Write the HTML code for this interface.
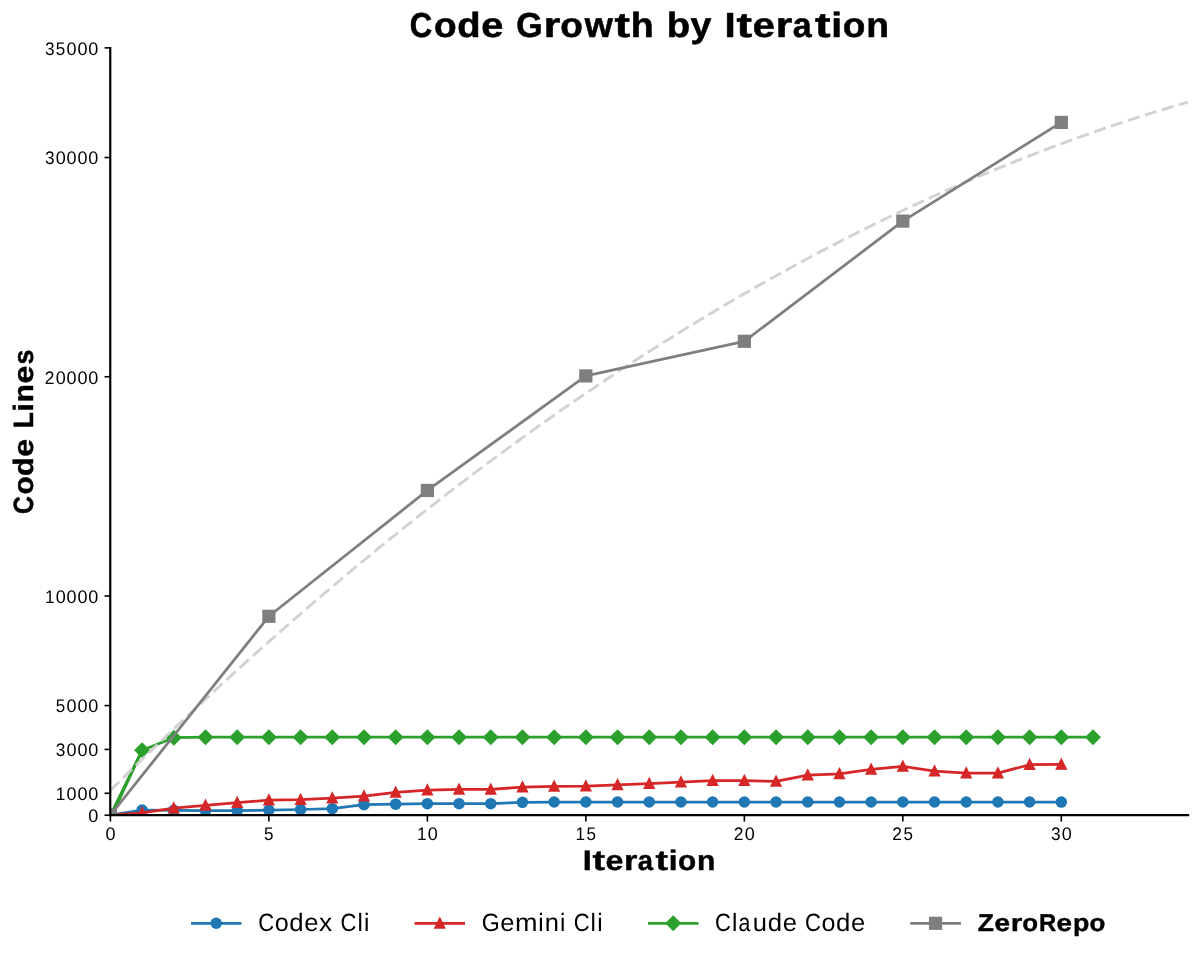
<!DOCTYPE html>
<html lang="en">
<head>
<meta charset="utf-8">
<title>Code Growth by Iteration</title>
<style>
html,body{margin:0;padding:0;background:#fff;}
body{width:1200px;height:958px;overflow:hidden;}
svg{display:block;will-change:transform;}
svg text{font-family:"Liberation Sans",sans-serif;fill:#000;text-rendering:geometricPrecision;}
</style>
</head>
<body>
<svg width="1200" height="958" viewBox="0 0 1200 958">
<rect x="0" y="0" width="1200" height="958" fill="#ffffff"/>
<defs><clipPath id="ax"><rect x="110.40" y="47.89" width="1077.70" height="767.31"/></clipPath></defs>

<g clip-path="url(#ax)" fill="none" stroke-linejoin="round" stroke-linecap="butt">
<polyline points="110.40,815.20 142.10,810.00 173.79,810.33 205.49,810.55 237.19,810.55 268.88,810.11 300.58,809.50 332.28,808.67 363.98,804.68 395.67,804.17 427.37,803.67 459.07,803.67 490.76,803.67 522.46,802.33 554.16,802.05 585.86,802.05 617.55,802.05 649.25,802.05 680.95,802.05 712.64,802.05 744.34,802.05 776.04,802.05 807.73,802.05 839.43,802.05 871.13,802.05 902.82,802.05 934.52,802.05 966.22,802.05 997.92,802.05 1029.61,802.05 1061.31,802.09" stroke="#1f77b4" stroke-width="2.75"/>
<circle cx="110.40" cy="815.20" r="5.75" fill="#1f77b4"/>
<circle cx="142.10" cy="810.00" r="5.75" fill="#1f77b4"/>
<circle cx="173.79" cy="810.33" r="5.75" fill="#1f77b4"/>
<circle cx="205.49" cy="810.55" r="5.75" fill="#1f77b4"/>
<circle cx="237.19" cy="810.55" r="5.75" fill="#1f77b4"/>
<circle cx="268.88" cy="810.11" r="5.75" fill="#1f77b4"/>
<circle cx="300.58" cy="809.50" r="5.75" fill="#1f77b4"/>
<circle cx="332.28" cy="808.67" r="5.75" fill="#1f77b4"/>
<circle cx="363.98" cy="804.68" r="5.75" fill="#1f77b4"/>
<circle cx="395.67" cy="804.17" r="5.75" fill="#1f77b4"/>
<circle cx="427.37" cy="803.67" r="5.75" fill="#1f77b4"/>
<circle cx="459.07" cy="803.67" r="5.75" fill="#1f77b4"/>
<circle cx="490.76" cy="803.67" r="5.75" fill="#1f77b4"/>
<circle cx="522.46" cy="802.33" r="5.75" fill="#1f77b4"/>
<circle cx="554.16" cy="802.05" r="5.75" fill="#1f77b4"/>
<circle cx="585.86" cy="802.05" r="5.75" fill="#1f77b4"/>
<circle cx="617.55" cy="802.05" r="5.75" fill="#1f77b4"/>
<circle cx="649.25" cy="802.05" r="5.75" fill="#1f77b4"/>
<circle cx="680.95" cy="802.05" r="5.75" fill="#1f77b4"/>
<circle cx="712.64" cy="802.05" r="5.75" fill="#1f77b4"/>
<circle cx="744.34" cy="802.05" r="5.75" fill="#1f77b4"/>
<circle cx="776.04" cy="802.05" r="5.75" fill="#1f77b4"/>
<circle cx="807.73" cy="802.05" r="5.75" fill="#1f77b4"/>
<circle cx="839.43" cy="802.05" r="5.75" fill="#1f77b4"/>
<circle cx="871.13" cy="802.05" r="5.75" fill="#1f77b4"/>
<circle cx="902.82" cy="802.05" r="5.75" fill="#1f77b4"/>
<circle cx="934.52" cy="802.05" r="5.75" fill="#1f77b4"/>
<circle cx="966.22" cy="802.05" r="5.75" fill="#1f77b4"/>
<circle cx="997.92" cy="802.05" r="5.75" fill="#1f77b4"/>
<circle cx="1029.61" cy="802.05" r="5.75" fill="#1f77b4"/>
<circle cx="1061.31" cy="802.09" r="5.75" fill="#1f77b4"/>
<polyline points="110.40,815.20 142.10,812.90 173.79,808.10 205.49,805.40 237.19,802.70 268.88,800.20 300.58,799.70 332.28,798.10 363.98,796.11 395.67,792.40 427.37,790.10 459.07,789.40 490.76,789.40 522.46,787.09 554.16,786.39 585.86,786.11 617.55,784.90 649.25,783.61 680.95,782.21 712.64,780.61 744.34,780.61 776.04,781.39 807.73,775.10 839.43,773.90 871.13,769.40 902.82,766.40 934.52,771.11 966.22,773.11 997.92,773.11 1029.61,764.71 1061.31,764.45" stroke="#d62728" stroke-width="2.75"/>
<path d="M110.40 809.90L115.40 819.90L105.40 819.90Z" fill="#d62728" stroke="#d62728" stroke-width="1.4" stroke-linejoin="miter"/>
<path d="M142.10 807.60L147.10 817.60L137.10 817.60Z" fill="#d62728" stroke="#d62728" stroke-width="1.4" stroke-linejoin="miter"/>
<path d="M173.79 802.80L178.79 812.80L168.79 812.80Z" fill="#d62728" stroke="#d62728" stroke-width="1.4" stroke-linejoin="miter"/>
<path d="M205.49 800.10L210.49 810.10L200.49 810.10Z" fill="#d62728" stroke="#d62728" stroke-width="1.4" stroke-linejoin="miter"/>
<path d="M237.19 797.40L242.19 807.40L232.19 807.40Z" fill="#d62728" stroke="#d62728" stroke-width="1.4" stroke-linejoin="miter"/>
<path d="M268.88 794.90L273.88 804.90L263.88 804.90Z" fill="#d62728" stroke="#d62728" stroke-width="1.4" stroke-linejoin="miter"/>
<path d="M300.58 794.40L305.58 804.40L295.58 804.40Z" fill="#d62728" stroke="#d62728" stroke-width="1.4" stroke-linejoin="miter"/>
<path d="M332.28 792.80L337.28 802.80L327.28 802.80Z" fill="#d62728" stroke="#d62728" stroke-width="1.4" stroke-linejoin="miter"/>
<path d="M363.98 790.81L368.98 800.81L358.98 800.81Z" fill="#d62728" stroke="#d62728" stroke-width="1.4" stroke-linejoin="miter"/>
<path d="M395.67 787.10L400.67 797.10L390.67 797.10Z" fill="#d62728" stroke="#d62728" stroke-width="1.4" stroke-linejoin="miter"/>
<path d="M427.37 784.80L432.37 794.80L422.37 794.80Z" fill="#d62728" stroke="#d62728" stroke-width="1.4" stroke-linejoin="miter"/>
<path d="M459.07 784.10L464.07 794.10L454.07 794.10Z" fill="#d62728" stroke="#d62728" stroke-width="1.4" stroke-linejoin="miter"/>
<path d="M490.76 784.10L495.76 794.10L485.76 794.10Z" fill="#d62728" stroke="#d62728" stroke-width="1.4" stroke-linejoin="miter"/>
<path d="M522.46 781.79L527.46 791.79L517.46 791.79Z" fill="#d62728" stroke="#d62728" stroke-width="1.4" stroke-linejoin="miter"/>
<path d="M554.16 781.09L559.16 791.09L549.16 791.09Z" fill="#d62728" stroke="#d62728" stroke-width="1.4" stroke-linejoin="miter"/>
<path d="M585.86 780.81L590.86 790.81L580.86 790.81Z" fill="#d62728" stroke="#d62728" stroke-width="1.4" stroke-linejoin="miter"/>
<path d="M617.55 779.60L622.55 789.60L612.55 789.60Z" fill="#d62728" stroke="#d62728" stroke-width="1.4" stroke-linejoin="miter"/>
<path d="M649.25 778.31L654.25 788.31L644.25 788.31Z" fill="#d62728" stroke="#d62728" stroke-width="1.4" stroke-linejoin="miter"/>
<path d="M680.95 776.91L685.95 786.91L675.95 786.91Z" fill="#d62728" stroke="#d62728" stroke-width="1.4" stroke-linejoin="miter"/>
<path d="M712.64 775.31L717.64 785.31L707.64 785.31Z" fill="#d62728" stroke="#d62728" stroke-width="1.4" stroke-linejoin="miter"/>
<path d="M744.34 775.31L749.34 785.31L739.34 785.31Z" fill="#d62728" stroke="#d62728" stroke-width="1.4" stroke-linejoin="miter"/>
<path d="M776.04 776.09L781.04 786.09L771.04 786.09Z" fill="#d62728" stroke="#d62728" stroke-width="1.4" stroke-linejoin="miter"/>
<path d="M807.73 769.80L812.73 779.80L802.73 779.80Z" fill="#d62728" stroke="#d62728" stroke-width="1.4" stroke-linejoin="miter"/>
<path d="M839.43 768.60L844.43 778.60L834.43 778.60Z" fill="#d62728" stroke="#d62728" stroke-width="1.4" stroke-linejoin="miter"/>
<path d="M871.13 764.10L876.13 774.10L866.13 774.10Z" fill="#d62728" stroke="#d62728" stroke-width="1.4" stroke-linejoin="miter"/>
<path d="M902.82 761.10L907.82 771.10L897.82 771.10Z" fill="#d62728" stroke="#d62728" stroke-width="1.4" stroke-linejoin="miter"/>
<path d="M934.52 765.81L939.52 775.81L929.52 775.81Z" fill="#d62728" stroke="#d62728" stroke-width="1.4" stroke-linejoin="miter"/>
<path d="M966.22 767.81L971.22 777.81L961.22 777.81Z" fill="#d62728" stroke="#d62728" stroke-width="1.4" stroke-linejoin="miter"/>
<path d="M997.92 767.81L1002.92 777.81L992.92 777.81Z" fill="#d62728" stroke="#d62728" stroke-width="1.4" stroke-linejoin="miter"/>
<path d="M1029.61 759.41L1034.61 769.41L1024.61 769.41Z" fill="#d62728" stroke="#d62728" stroke-width="1.4" stroke-linejoin="miter"/>
<path d="M1061.31 759.15L1066.31 769.15L1056.31 769.15Z" fill="#d62728" stroke="#d62728" stroke-width="1.4" stroke-linejoin="miter"/>
<polyline points="110.40,815.20 142.10,750.31 173.79,737.70 205.49,737.15 237.19,737.15 268.88,737.15 300.58,737.15 332.28,737.15 363.98,737.15 395.67,737.15 427.37,737.15 459.07,737.15 490.76,737.15 522.46,737.15 554.16,737.15 585.86,737.15 617.55,737.15 649.25,737.15 680.95,737.15 712.64,737.15 744.34,737.15 776.04,737.15 807.73,737.15 839.43,737.15 871.13,737.15 902.82,737.15 934.52,737.15 966.22,737.15 997.92,737.15 1029.61,737.15 1061.31,737.15 1093.01,737.15" stroke="#2ca02c" stroke-width="2.75"/>
<path d="M112.10 815.20L142.10 750.31" stroke="#2ca02c" stroke-width="2.75"/>
<path d="M110.40 807.20L118.40 815.20L110.40 823.20L102.40 815.20Z" fill="#2ca02c"/>
<path d="M142.10 742.31L150.10 750.31L142.10 758.31L134.10 750.31Z" fill="#2ca02c"/>
<path d="M173.79 729.70L181.79 737.70L173.79 745.70L165.79 737.70Z" fill="#2ca02c"/>
<path d="M205.49 729.15L213.49 737.15L205.49 745.15L197.49 737.15Z" fill="#2ca02c"/>
<path d="M237.19 729.15L245.19 737.15L237.19 745.15L229.19 737.15Z" fill="#2ca02c"/>
<path d="M268.88 729.15L276.88 737.15L268.88 745.15L260.88 737.15Z" fill="#2ca02c"/>
<path d="M300.58 729.15L308.58 737.15L300.58 745.15L292.58 737.15Z" fill="#2ca02c"/>
<path d="M332.28 729.15L340.28 737.15L332.28 745.15L324.28 737.15Z" fill="#2ca02c"/>
<path d="M363.98 729.15L371.98 737.15L363.98 745.15L355.98 737.15Z" fill="#2ca02c"/>
<path d="M395.67 729.15L403.67 737.15L395.67 745.15L387.67 737.15Z" fill="#2ca02c"/>
<path d="M427.37 729.15L435.37 737.15L427.37 745.15L419.37 737.15Z" fill="#2ca02c"/>
<path d="M459.07 729.15L467.07 737.15L459.07 745.15L451.07 737.15Z" fill="#2ca02c"/>
<path d="M490.76 729.15L498.76 737.15L490.76 745.15L482.76 737.15Z" fill="#2ca02c"/>
<path d="M522.46 729.15L530.46 737.15L522.46 745.15L514.46 737.15Z" fill="#2ca02c"/>
<path d="M554.16 729.15L562.16 737.15L554.16 745.15L546.16 737.15Z" fill="#2ca02c"/>
<path d="M585.86 729.15L593.86 737.15L585.86 745.15L577.86 737.15Z" fill="#2ca02c"/>
<path d="M617.55 729.15L625.55 737.15L617.55 745.15L609.55 737.15Z" fill="#2ca02c"/>
<path d="M649.25 729.15L657.25 737.15L649.25 745.15L641.25 737.15Z" fill="#2ca02c"/>
<path d="M680.95 729.15L688.95 737.15L680.95 745.15L672.95 737.15Z" fill="#2ca02c"/>
<path d="M712.64 729.15L720.64 737.15L712.64 745.15L704.64 737.15Z" fill="#2ca02c"/>
<path d="M744.34 729.15L752.34 737.15L744.34 745.15L736.34 737.15Z" fill="#2ca02c"/>
<path d="M776.04 729.15L784.04 737.15L776.04 745.15L768.04 737.15Z" fill="#2ca02c"/>
<path d="M807.73 729.15L815.73 737.15L807.73 745.15L799.73 737.15Z" fill="#2ca02c"/>
<path d="M839.43 729.15L847.43 737.15L839.43 745.15L831.43 737.15Z" fill="#2ca02c"/>
<path d="M871.13 729.15L879.13 737.15L871.13 745.15L863.13 737.15Z" fill="#2ca02c"/>
<path d="M902.82 729.15L910.82 737.15L902.82 745.15L894.82 737.15Z" fill="#2ca02c"/>
<path d="M934.52 729.15L942.52 737.15L934.52 745.15L926.52 737.15Z" fill="#2ca02c"/>
<path d="M966.22 729.15L974.22 737.15L966.22 745.15L958.22 737.15Z" fill="#2ca02c"/>
<path d="M997.92 729.15L1005.92 737.15L997.92 745.15L989.92 737.15Z" fill="#2ca02c"/>
<path d="M1029.61 729.15L1037.61 737.15L1029.61 745.15L1021.61 737.15Z" fill="#2ca02c"/>
<path d="M1061.31 729.15L1069.31 737.15L1061.31 745.15L1053.31 737.15Z" fill="#2ca02c"/>
<path d="M1093.01 729.15L1101.01 737.15L1093.01 745.15L1085.01 737.15Z" fill="#2ca02c"/>
<polyline points="110.40,790.46 113.10,787.79 115.80,785.12 118.50,782.45 121.20,779.80 123.90,777.14 126.61,774.49 129.31,771.85 132.01,769.21 134.71,766.57 137.41,763.94 140.11,761.32 142.81,758.70 145.51,756.08 148.21,753.47 150.91,750.86 153.62,748.26 156.32,745.66 159.02,743.07 161.72,740.48 164.42,737.90 167.12,735.32 169.82,732.75 172.52,730.18 175.22,727.62 177.92,725.06 180.63,722.50 183.33,719.95 186.03,717.41 188.73,714.87 191.43,712.33 194.13,709.80 196.83,707.28 199.53,704.76 202.23,702.24 204.93,699.73 207.64,697.22 210.34,694.72 213.04,692.22 215.74,689.73 218.44,687.24 221.14,684.76 223.84,682.28 226.54,679.81 229.24,677.34 231.94,674.88 234.65,672.42 237.35,669.97 240.05,667.52 242.75,665.07 245.45,662.63 248.15,660.20 250.85,657.77 253.55,655.34 256.25,652.92 258.95,650.50 261.66,648.09 264.36,645.69 267.06,643.28 269.76,640.89 272.46,638.50 275.16,636.11 277.86,633.72 280.56,631.35 283.26,628.97 285.96,626.61 288.67,624.24 291.37,621.88 294.07,619.53 296.77,617.18 299.47,614.84 302.17,612.50 304.87,610.16 307.57,607.83 310.27,605.50 312.97,603.18 315.68,600.87 318.38,598.56 321.08,596.25 323.78,593.95 326.48,591.65 329.18,589.36 331.88,587.07 334.58,584.79 337.28,582.51 339.98,580.24 342.69,577.97 345.39,575.71 348.09,573.45 350.79,571.19 353.49,568.95 356.19,566.70 358.89,564.46 361.59,562.23 364.29,560.00 366.99,557.77 369.70,555.55 372.40,553.33 375.10,551.12 377.80,548.92 380.50,546.71 383.20,544.52 385.90,542.33 388.60,540.14 391.30,537.96 394.00,535.78 396.71,533.61 399.41,531.44 402.11,529.27 404.81,527.11 407.51,524.96 410.21,522.81 412.91,520.67 415.61,518.53 418.31,516.39 421.01,514.26 423.72,512.14 426.42,510.02 429.12,507.90 431.82,505.79 434.52,503.68 437.22,501.58 439.92,499.49 442.62,497.39 445.32,495.31 448.02,493.22 450.73,491.15 453.43,489.07 456.13,487.00 458.83,484.94 461.53,482.88 464.23,480.83 466.93,478.78 469.63,476.74 472.33,474.70 475.03,472.66 477.74,470.63 480.44,468.61 483.14,466.58 485.84,464.57 488.54,462.56 491.24,460.55 493.94,458.55 496.64,456.55 499.34,454.56 502.04,452.57 504.75,450.59 507.45,448.61 510.15,446.64 512.85,444.67 515.55,442.71 518.25,440.75 520.95,438.80 523.65,436.85 526.35,434.90 529.05,432.96 531.76,431.03 534.46,429.10 537.16,427.17 539.86,425.25 542.56,423.34 545.26,421.43 547.96,419.52 550.66,417.62 553.36,415.72 556.06,413.83 558.77,411.94 561.47,410.06 564.17,408.18 566.87,406.31 569.57,404.44 572.27,402.58 574.97,400.72 577.67,398.87 580.37,397.02 583.07,395.17 585.78,393.34 588.48,391.50 591.18,389.67 593.88,387.85 596.58,386.03 599.28,384.21 601.98,382.40 604.68,380.59 607.38,378.79 610.08,376.99 612.79,375.20 615.49,373.42 618.19,371.63 620.89,369.86 623.59,368.08 626.29,366.32 628.99,364.55 631.69,362.79 634.39,361.04 637.09,359.29 639.80,357.55 642.50,355.81 645.20,354.07 647.90,352.34 650.60,350.62 653.30,348.90 656.00,347.18 658.70,345.47 661.40,343.77 664.10,342.06 666.81,340.37 669.51,338.68 672.21,336.99 674.91,335.31 677.61,333.63 680.31,331.96 683.01,330.29 685.71,328.63 688.41,326.97 691.11,325.31 693.82,323.66 696.52,322.02 699.22,320.38 701.92,318.75 704.62,317.12 707.32,315.49 710.02,313.87 712.72,312.26 715.42,310.64 718.12,309.04 720.83,307.44 723.53,305.84 726.23,304.25 728.93,302.66 731.63,301.08 734.33,299.50 737.03,297.93 739.73,296.36 742.43,294.80 745.13,293.24 747.84,291.69 750.54,290.14 753.24,288.59 755.94,287.06 758.64,285.52 761.34,283.99 764.04,282.47 766.74,280.95 769.44,279.43 772.14,277.92 774.85,276.41 777.55,274.91 780.25,273.42 782.95,271.92 785.65,270.44 788.35,268.96 791.05,267.48 793.75,266.01 796.45,264.54 799.15,263.07 801.86,261.62 804.56,260.16 807.26,258.71 809.96,257.27 812.66,255.83 815.36,254.40 818.06,252.97 820.76,251.54 823.46,250.12 826.16,248.71 828.87,247.30 831.57,245.89 834.27,244.49 836.97,243.09 839.67,241.70 842.37,240.31 845.07,238.93 847.77,237.56 850.47,236.18 853.17,234.81 855.88,233.45 858.58,232.09 861.28,230.74 863.98,229.39 866.68,228.05 869.38,226.71 872.08,225.37 874.78,224.04 877.48,222.72 880.18,221.40 882.89,220.08 885.59,218.77 888.29,217.47 890.99,216.17 893.69,214.87 896.39,213.58 899.09,212.29 901.79,211.01 904.49,209.73 907.19,208.46 909.90,207.19 912.60,205.93 915.30,204.67 918.00,203.42 920.70,202.17 923.40,200.93 926.10,199.69 928.80,198.45 931.50,197.22 934.20,196.00 936.91,194.78 939.61,193.56 942.31,192.35 945.01,191.15 947.71,189.95 950.41,188.75 953.11,187.56 955.81,186.37 958.51,185.19 961.21,184.01 963.92,182.84 966.62,181.67 969.32,180.51 972.02,179.35 974.72,178.20 977.42,177.05 980.12,175.91 982.82,174.77 985.52,173.63 988.22,172.50 990.93,171.38 993.63,170.26 996.33,169.14 999.03,168.03 1001.73,166.93 1004.43,165.83 1007.13,164.73 1009.83,163.64 1012.53,162.55 1015.23,161.47 1017.94,160.39 1020.64,159.32 1023.34,158.25 1026.04,157.19 1028.74,156.13 1031.44,155.08 1034.14,154.03 1036.84,152.99 1039.54,151.95 1042.24,150.91 1044.95,149.88 1047.65,148.86 1050.35,147.84 1053.05,146.82 1055.75,145.81 1058.45,144.81 1061.15,143.81 1063.85,142.81 1066.55,141.82 1069.25,140.83 1071.96,139.85 1074.66,138.88 1077.36,137.90 1080.06,136.94 1082.76,135.97 1085.46,135.01 1088.16,134.06 1090.86,133.11 1093.56,132.17 1096.26,131.23 1098.97,130.30 1101.67,129.37 1104.37,128.44 1107.07,127.52 1109.77,126.61 1112.47,125.70 1115.17,124.79 1117.87,123.89 1120.57,122.99 1123.27,122.10 1125.98,121.22 1128.68,120.34 1131.38,119.46 1134.08,118.59 1136.78,117.72 1139.48,116.86 1142.18,116.00 1144.88,115.15 1147.58,114.30 1150.28,113.45 1152.99,112.61 1155.69,111.78 1158.39,110.95 1161.09,110.13 1163.79,109.31 1166.49,108.49 1169.19,107.68 1171.89,106.88 1174.59,106.08 1177.29,105.28 1180.00,104.49 1182.70,103.70 1185.40,102.92 1188.10,102.14" stroke="#cecece" stroke-opacity="0.92" stroke-width="2.9" stroke-dasharray="12.4435 5.3688"/>
<polyline points="110.40,815.20 268.88,616.29 427.37,490.45 585.86,375.91 744.34,341.31 902.82,221.09 1061.31,122.39" stroke="#7f7f7f" stroke-width="2.75"/>
<rect x="103.80" y="808.60" width="13.20" height="13.20" fill="#7f7f7f"/>
<rect x="262.28" y="609.69" width="13.20" height="13.20" fill="#7f7f7f"/>
<rect x="420.77" y="483.85" width="13.20" height="13.20" fill="#7f7f7f"/>
<rect x="579.25" y="369.31" width="13.20" height="13.20" fill="#7f7f7f"/>
<rect x="737.74" y="334.71" width="13.20" height="13.20" fill="#7f7f7f"/>
<rect x="896.22" y="214.49" width="13.20" height="13.20" fill="#7f7f7f"/>
<rect x="1054.71" y="115.79" width="13.20" height="13.20" fill="#7f7f7f"/>
</g>
<g stroke="#000" fill="none">
<path d="M110.25 47.09V816.30" stroke-width="2.2"/>
<path d="M109.30 815.20H1189.20" stroke-width="2.2"/>
<path d="M110.40 815.20v6.4" stroke-width="1.6"/>
<path d="M268.88 815.20v6.4" stroke-width="1.6"/>
<path d="M427.37 815.20v6.4" stroke-width="1.6"/>
<path d="M585.86 815.20v6.4" stroke-width="1.6"/>
<path d="M744.34 815.20v6.4" stroke-width="1.6"/>
<path d="M902.82 815.20v6.4" stroke-width="1.6"/>
<path d="M1061.31 815.20v6.4" stroke-width="1.6"/>
<path d="M110.40 815.20h-5.9" stroke-width="1.6"/>
<path d="M110.40 793.28h-5.9" stroke-width="1.6"/>
<path d="M110.40 749.43h-5.9" stroke-width="1.6"/>
<path d="M110.40 705.59h-5.9" stroke-width="1.6"/>
<path d="M110.40 595.97h-5.9" stroke-width="1.6"/>
<path d="M110.40 376.74h-5.9" stroke-width="1.6"/>
<path d="M110.40 157.51h-5.9" stroke-width="1.6"/>
<path d="M110.40 47.89h-5.9" stroke-width="1.6"/>
</g>
<g>
<text y="839.60" font-size="18.18"><tspan x="105.38" textLength="10.03" lengthAdjust="spacingAndGlyphs">0</tspan></text>
<text y="839.60" font-size="18.18"><tspan x="264.08" textLength="9.46" lengthAdjust="spacingAndGlyphs">5</tspan></text>
<text y="839.60" font-size="18.18"><tspan x="417.06" textLength="9.57" lengthAdjust="spacingAndGlyphs">1</tspan><tspan x="427.79" textLength="10.03" lengthAdjust="spacingAndGlyphs">0</tspan></text>
<text y="839.60" font-size="18.18"><tspan x="575.54" textLength="9.57" lengthAdjust="spacingAndGlyphs">1</tspan><tspan x="586.49" textLength="9.46" lengthAdjust="spacingAndGlyphs">5</tspan></text>
<text y="839.60" font-size="18.18"><tspan x="733.84" textLength="9.66" lengthAdjust="spacingAndGlyphs">2</tspan><tspan x="744.76" textLength="10.03" lengthAdjust="spacingAndGlyphs">0</tspan></text>
<text y="839.60" font-size="18.18"><tspan x="892.32" textLength="9.66" lengthAdjust="spacingAndGlyphs">2</tspan><tspan x="903.46" textLength="9.46" lengthAdjust="spacingAndGlyphs">5</tspan></text>
<text y="839.60" font-size="18.18"><tspan x="1051.07" textLength="9.63" lengthAdjust="spacingAndGlyphs">3</tspan><tspan x="1061.73" textLength="10.03" lengthAdjust="spacingAndGlyphs">0</tspan></text>
<text y="822.10" font-size="18.18"><tspan x="88.28" textLength="10.03" lengthAdjust="spacingAndGlyphs">0</tspan></text>
<text y="800.18" font-size="18.18"><tspan x="55.78" textLength="9.57" lengthAdjust="spacingAndGlyphs">1</tspan><tspan x="66.52" textLength="10.03" lengthAdjust="spacingAndGlyphs">0</tspan><tspan x="77.40" textLength="10.03" lengthAdjust="spacingAndGlyphs">0</tspan><tspan x="88.28" textLength="10.03" lengthAdjust="spacingAndGlyphs">0</tspan></text>
<text y="756.33" font-size="18.18"><tspan x="55.86" textLength="9.63" lengthAdjust="spacingAndGlyphs">3</tspan><tspan x="66.52" textLength="10.03" lengthAdjust="spacingAndGlyphs">0</tspan><tspan x="77.40" textLength="10.03" lengthAdjust="spacingAndGlyphs">0</tspan><tspan x="88.28" textLength="10.03" lengthAdjust="spacingAndGlyphs">0</tspan></text>
<text y="712.49" font-size="18.18"><tspan x="55.86" textLength="9.46" lengthAdjust="spacingAndGlyphs">5</tspan><tspan x="66.52" textLength="10.03" lengthAdjust="spacingAndGlyphs">0</tspan><tspan x="77.40" textLength="10.03" lengthAdjust="spacingAndGlyphs">0</tspan><tspan x="88.28" textLength="10.03" lengthAdjust="spacingAndGlyphs">0</tspan></text>
<text y="602.87" font-size="18.18"><tspan x="44.91" textLength="9.57" lengthAdjust="spacingAndGlyphs">1</tspan><tspan x="55.64" textLength="10.03" lengthAdjust="spacingAndGlyphs">0</tspan><tspan x="66.52" textLength="10.03" lengthAdjust="spacingAndGlyphs">0</tspan><tspan x="77.40" textLength="10.03" lengthAdjust="spacingAndGlyphs">0</tspan><tspan x="88.28" textLength="10.03" lengthAdjust="spacingAndGlyphs">0</tspan></text>
<text y="383.64" font-size="18.18"><tspan x="44.72" textLength="9.66" lengthAdjust="spacingAndGlyphs">2</tspan><tspan x="55.64" textLength="10.03" lengthAdjust="spacingAndGlyphs">0</tspan><tspan x="66.52" textLength="10.03" lengthAdjust="spacingAndGlyphs">0</tspan><tspan x="77.40" textLength="10.03" lengthAdjust="spacingAndGlyphs">0</tspan><tspan x="88.28" textLength="10.03" lengthAdjust="spacingAndGlyphs">0</tspan></text>
<text y="164.41" font-size="18.18"><tspan x="44.98" textLength="9.63" lengthAdjust="spacingAndGlyphs">3</tspan><tspan x="55.64" textLength="10.03" lengthAdjust="spacingAndGlyphs">0</tspan><tspan x="66.52" textLength="10.03" lengthAdjust="spacingAndGlyphs">0</tspan><tspan x="77.40" textLength="10.03" lengthAdjust="spacingAndGlyphs">0</tspan><tspan x="88.28" textLength="10.03" lengthAdjust="spacingAndGlyphs">0</tspan></text>
<text y="54.79" font-size="18.18"><tspan x="44.98" textLength="9.63" lengthAdjust="spacingAndGlyphs">3</tspan><tspan x="55.86" textLength="9.46" lengthAdjust="spacingAndGlyphs">5</tspan><tspan x="66.52" textLength="10.03" lengthAdjust="spacingAndGlyphs">0</tspan><tspan x="77.40" textLength="10.03" lengthAdjust="spacingAndGlyphs">0</tspan><tspan x="88.28" textLength="10.03" lengthAdjust="spacingAndGlyphs">0</tspan></text>
</g>
<text y="37.30" font-size="34.82" font-weight="bold" stroke="#000" stroke-width="0.54"><tspan x="409.79" textLength="22.49" lengthAdjust="spacingAndGlyphs">C</tspan><tspan x="434.13" textLength="22.61" lengthAdjust="spacingAndGlyphs">o</tspan><tspan x="457.22" textLength="23.32" lengthAdjust="spacingAndGlyphs">d</tspan><tspan x="481.29" textLength="22.16" lengthAdjust="spacingAndGlyphs">e</tspan><tspan x="503.99"> </tspan><tspan x="516.27" textLength="26.46" lengthAdjust="spacingAndGlyphs">G</tspan><tspan x="543.66" textLength="16.61" lengthAdjust="spacingAndGlyphs">r</tspan><tspan x="560.27" textLength="22.61" lengthAdjust="spacingAndGlyphs">o</tspan><tspan x="584.71" textLength="28.06" lengthAdjust="spacingAndGlyphs">w</tspan><tspan x="614.43" textLength="15.49" lengthAdjust="spacingAndGlyphs">t</tspan><tspan x="630.87" textLength="22.94" lengthAdjust="spacingAndGlyphs">h</tspan><tspan x="654.38"> </tspan><tspan x="666.70" textLength="23.32" lengthAdjust="spacingAndGlyphs">b</tspan><tspan x="690.63" textLength="20.90" lengthAdjust="spacingAndGlyphs">y</tspan><tspan x="712.21"> </tspan><tspan x="724.61" textLength="11.18" lengthAdjust="spacingAndGlyphs">I</tspan><tspan x="736.63" textLength="15.49" lengthAdjust="spacingAndGlyphs">t</tspan><tspan x="752.75" textLength="22.16" lengthAdjust="spacingAndGlyphs">e</tspan><tspan x="775.73" textLength="16.61" lengthAdjust="spacingAndGlyphs">r</tspan><tspan x="792.79" textLength="18.88" lengthAdjust="spacingAndGlyphs">a</tspan><tspan x="814.95" textLength="15.49" lengthAdjust="spacingAndGlyphs">t</tspan><tspan x="831.29" textLength="10.84" lengthAdjust="spacingAndGlyphs">i</tspan><tspan x="842.74" textLength="22.61" lengthAdjust="spacingAndGlyphs">o</tspan><tspan x="866.26" textLength="22.75" lengthAdjust="spacingAndGlyphs">n</tspan></text>
<text y="870.20" font-size="28.05" font-weight="bold" stroke="#000" stroke-width="0.43"><tspan x="582.80" textLength="9.01" lengthAdjust="spacingAndGlyphs">I</tspan><tspan x="592.48" textLength="12.48" lengthAdjust="spacingAndGlyphs">t</tspan><tspan x="605.47" textLength="17.85" lengthAdjust="spacingAndGlyphs">e</tspan><tspan x="623.98" textLength="13.38" lengthAdjust="spacingAndGlyphs">r</tspan><tspan x="637.72" textLength="15.21" lengthAdjust="spacingAndGlyphs">a</tspan><tspan x="655.58" textLength="12.48" lengthAdjust="spacingAndGlyphs">t</tspan><tspan x="668.74" textLength="8.73" lengthAdjust="spacingAndGlyphs">i</tspan><tspan x="677.97" textLength="18.21" lengthAdjust="spacingAndGlyphs">o</tspan><tspan x="696.92" textLength="18.33" lengthAdjust="spacingAndGlyphs">n</tspan></text>
<g transform="translate(32.8 513.3) rotate(-90)"><text y="0.00" font-size="27.89" font-weight="bold" stroke="#000" stroke-width="0.43"><tspan x="-0.81" textLength="18.02" lengthAdjust="spacingAndGlyphs">C</tspan><tspan x="18.69" textLength="18.11" lengthAdjust="spacingAndGlyphs">o</tspan><tspan x="37.19" textLength="18.69" lengthAdjust="spacingAndGlyphs">d</tspan><tspan x="56.48" textLength="17.75" lengthAdjust="spacingAndGlyphs">e</tspan><tspan x="74.66"> </tspan><tspan x="84.99" textLength="16.14" lengthAdjust="spacingAndGlyphs">L</tspan><tspan x="101.56" textLength="8.68" lengthAdjust="spacingAndGlyphs">i</tspan><tspan x="111.03" textLength="18.23" lengthAdjust="spacingAndGlyphs">n</tspan><tspan x="129.87" textLength="17.75" lengthAdjust="spacingAndGlyphs">e</tspan><tspan x="148.72" textLength="15.02" lengthAdjust="spacingAndGlyphs">s</tspan></text></g>
<path d="M191.00 923.3H241.40" stroke="#1f77b4" stroke-width="2.75" fill="none"/><circle cx="216.20" cy="923.30" r="5.75" fill="#1f77b4"/>
<path d="M414.60 923.3H465.00" stroke="#d62728" stroke-width="2.75" fill="none"/><path d="M439.80 918.00L444.80 928.00L434.80 928.00Z" fill="#d62728" stroke="#d62728" stroke-width="1.4" stroke-linejoin="miter"/>
<path d="M648.00 923.3H698.50" stroke="#2ca02c" stroke-width="2.75" fill="none"/><path d="M673.25 915.30L681.25 923.30L673.25 931.30L665.25 923.30Z" fill="#2ca02c"/>
<path d="M910.20 923.3H960.90" stroke="#7f7f7f" stroke-width="2.75" fill="none"/><rect x="928.95" y="916.70" width="13.20" height="13.20" fill="#7f7f7f"/>
<text y="931.10" font-size="25.11"><tspan x="258.28" textLength="15.89" lengthAdjust="spacingAndGlyphs">C</tspan><tspan x="274.87" textLength="14.01" lengthAdjust="spacingAndGlyphs">o</tspan><tspan x="289.34" textLength="14.33" lengthAdjust="spacingAndGlyphs">d</tspan><tspan x="304.38" textLength="14.24" lengthAdjust="spacingAndGlyphs">e</tspan><tspan x="319.13" textLength="13.15" lengthAdjust="spacingAndGlyphs">x</tspan><tspan x="332.77"> </tspan><tspan x="340.52" textLength="15.89" lengthAdjust="spacingAndGlyphs">C</tspan><tspan x="357.45" textLength="5.38" lengthAdjust="spacingAndGlyphs">l</tspan><tspan x="364.05" textLength="5.38" lengthAdjust="spacingAndGlyphs">i</tspan></text>
<text y="931.10" font-size="25.11"><tspan x="481.84" textLength="17.98" lengthAdjust="spacingAndGlyphs">G</tspan><tspan x="500.25" textLength="14.24" lengthAdjust="spacingAndGlyphs">e</tspan><tspan x="514.97" textLength="22.49" lengthAdjust="spacingAndGlyphs">m</tspan><tspan x="538.31" textLength="5.38" lengthAdjust="spacingAndGlyphs">i</tspan><tspan x="544.74" textLength="14.21" lengthAdjust="spacingAndGlyphs">n</tspan><tspan x="559.92" textLength="5.38" lengthAdjust="spacingAndGlyphs">i</tspan><tspan x="565.89"> </tspan><tspan x="573.64" textLength="15.89" lengthAdjust="spacingAndGlyphs">C</tspan><tspan x="590.58" textLength="5.38" lengthAdjust="spacingAndGlyphs">l</tspan><tspan x="597.17" textLength="5.38" lengthAdjust="spacingAndGlyphs">i</tspan></text>
<text y="931.10" font-size="25.11"><tspan x="715.08" textLength="15.89" lengthAdjust="spacingAndGlyphs">C</tspan><tspan x="732.02" textLength="5.38" lengthAdjust="spacingAndGlyphs">l</tspan><tspan x="738.52" textLength="11.85" lengthAdjust="spacingAndGlyphs">a</tspan><tspan x="752.88" textLength="14.21" lengthAdjust="spacingAndGlyphs">u</tspan><tspan x="767.77" textLength="14.33" lengthAdjust="spacingAndGlyphs">d</tspan><tspan x="782.81" textLength="14.24" lengthAdjust="spacingAndGlyphs">e</tspan><tspan x="797.17"> </tspan><tspan x="804.92" textLength="15.89" lengthAdjust="spacingAndGlyphs">C</tspan><tspan x="821.50" textLength="14.01" lengthAdjust="spacingAndGlyphs">o</tspan><tspan x="835.98" textLength="14.33" lengthAdjust="spacingAndGlyphs">d</tspan><tspan x="851.02" textLength="14.24" lengthAdjust="spacingAndGlyphs">e</tspan></text>
<text y="931.00" font-size="24.38" font-weight="bold" stroke="#000" stroke-width="0.38"><tspan x="977.80" textLength="16.16" lengthAdjust="spacingAndGlyphs">Z</tspan><tspan x="994.57" textLength="15.52" lengthAdjust="spacingAndGlyphs">e</tspan><tspan x="1010.66" textLength="11.63" lengthAdjust="spacingAndGlyphs">r</tspan><tspan x="1022.29" textLength="15.83" lengthAdjust="spacingAndGlyphs">o</tspan><tspan x="1039.07" textLength="17.24" lengthAdjust="spacingAndGlyphs">R</tspan><tspan x="1056.60" textLength="15.52" lengthAdjust="spacingAndGlyphs">e</tspan><tspan x="1072.90" textLength="16.33" lengthAdjust="spacingAndGlyphs">p</tspan><tspan x="1089.57" textLength="15.83" lengthAdjust="spacingAndGlyphs">o</tspan></text>
</svg>
</body>
</html>
